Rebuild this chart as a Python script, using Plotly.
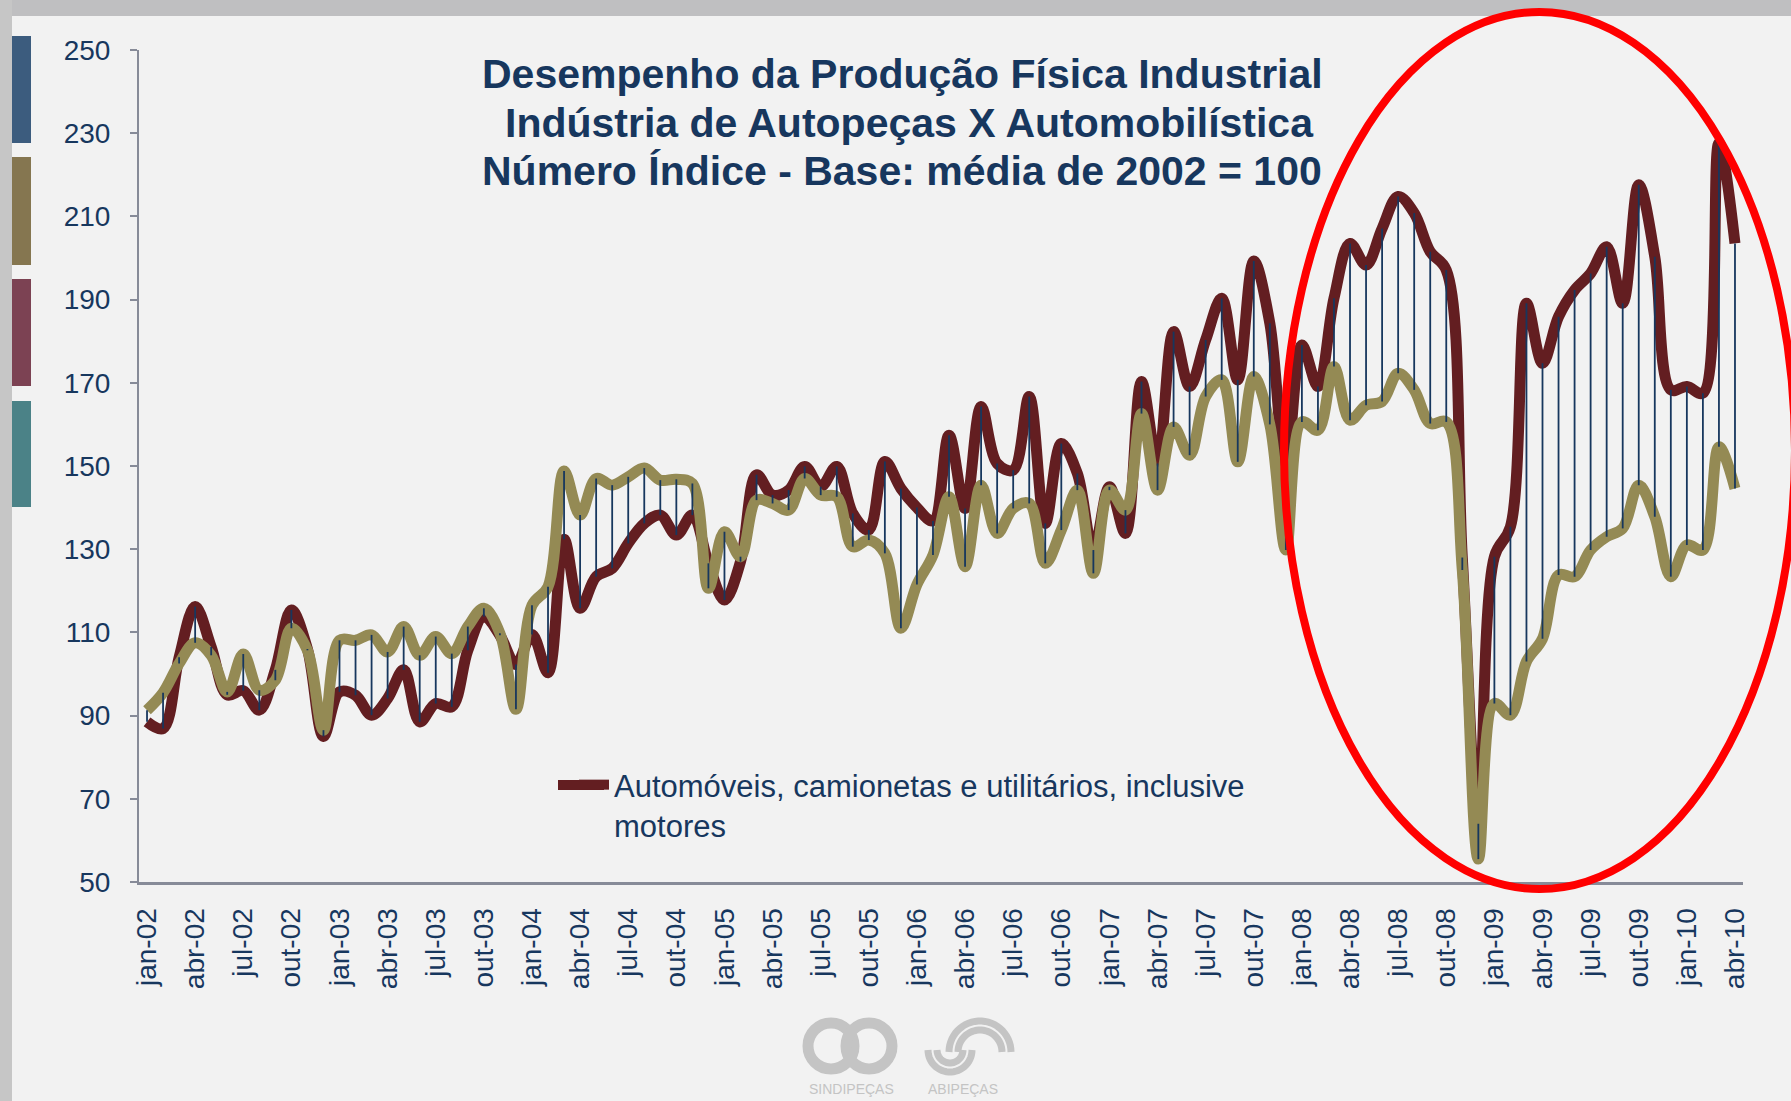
import numpy as np
import plotly.graph_objects as go

# ---------------- data ----------------
months = ["jan", "fev", "mar", "abr", "mai", "jun", "jul", "ago", "set", "out", "nov", "dez"]
years = ["02", "03", "04", "05", "06", "07", "08", "09", "10"]
categories = [f"{m}-{y}" for y in years for m in months][:100]   # jan-02 ... abr-10
tick_labels = categories[::3]

# Automóveis, camionetas e utilitários, inclusive motores
autos = [
    88.5, 86.9, 104.0, 116.2, 106.5, 95.0, 96.0, 91.3, 101.0, 115.4,
    106.0, 85.0, 95.7, 94.9, 90.1, 94.1, 101.0, 88.5, 92.9, 92.1,
    105.7, 113.8, 109.3, 102.3, 109.5, 100.3, 132.4, 115.8, 123.4, 125.4,
    131.4, 136.2, 138.2, 133.4, 138.2, 126.6, 117.8, 127.0, 147.9, 143.0,
    144.2, 149.9, 145.0, 149.9, 138.6, 134.6, 151.1, 144.6, 140.0, 136.8,
    157.4, 139.8, 164.3, 150.6, 149.0, 166.7, 136.2, 155.4, 148.2, 129.8,
    145.0, 133.8, 170.3, 150.6, 182.3, 169.1, 180.3, 190.3, 170.7, 199.3,
    184.3, 149.3, 179.1, 169.1, 190.3, 203.5, 198.3, 207.1, 214.8, 210.8,
    201.5, 197.1, 128.0, 64.0, 128.2, 135.4, 189.1, 174.7, 185.9, 192.3,
    196.3, 202.7, 189.1, 217.6, 200.3, 168.3, 169.1, 167.5, 227.6, 203.5,
]

# Autopeças
autopecas = [
    91.3, 95.5, 102.5, 107.5, 104.5, 95.7, 104.8, 96.1, 98.5, 111.0,
    105.7, 86.5, 108.1, 108.1, 109.4, 105.3, 111.4, 104.5, 109.0, 104.9,
    111.4, 115.8, 109.8, 91.5, 116.5, 121.0, 148.8, 138.2, 147.0, 145.4,
    147.4, 149.5, 146.6, 146.8, 145.8, 120.6, 134.2, 128.2, 141.8, 141.0,
    139.4, 147.0, 143.0, 142.6, 130.6, 132.2, 129.0, 111.0, 121.5, 128.6,
    142.6, 125.8, 145.4, 133.8, 139.8, 141.0, 126.6, 134.6, 144.2, 124.2,
    144.2, 139.4, 162.6, 144.2, 159.4, 152.6, 166.7, 170.7, 151.0, 171.5,
    160.0, 129.8, 160.6, 158.6, 173.9, 161.0, 164.6, 165.5, 172.3, 168.3,
    160.2, 160.6, 125.0, 55.5, 92.9, 90.1, 103.0, 108.5, 123.8, 123.4,
    129.8, 133.0, 135.0, 145.4, 137.8, 123.4, 131.0, 129.8, 154.6, 144.6,
]

legend_name = "Automóveis, camionetas e utilitários, inclusive<br>motores"
title_lines = [
    "Desempenho da Produção Física Industrial",
    "Indústria de Autopeças X Automobilística",
    "Número Índice - Base: média de 2002 = 100",
]

# ---------------- styling ----------------
FONT = "Liberation Sans, Arial, sans-serif"
NAVY = "#17375E"
RED = "#631E21"
OLIVE = "#948A54"
AXIS_GRAY = "#878B98"
BG = "#F2F2F2"

W_PX, H_PX = 1791, 1101
L, R, T, B = 139, 1743, 50, 882


def px2x(x):
    return (x - L) / (R - L)


def px2y(y):
    return (B - y) / (B - T)


fig = go.Figure()

fig.add_trace(go.Scatter(
    x=categories, y=autos, mode="lines", name=legend_name,
    line=dict(color=RED, width=11, shape="spline", smoothing=1.0),
    showlegend=True,
))
fig.add_trace(go.Scatter(
    x=categories, y=autopecas, mode="lines", name="Autopeças",
    line=dict(color=OLIVE, width=11, shape="spline", smoothing=1.0),
    showlegend=False,
))

# high-low (drop) lines between the two series
dx, dy = [], []
for c, a, p in zip(categories, autos, autopecas):
    dx += [c, c, None]
    dy += [a, p, None]
fig.add_trace(go.Scatter(
    x=dx, y=dy, mode="lines", line=dict(color=NAVY, width=1.8),
    showlegend=False, hoverinfo="skip",
))

shapes = []
# frame decorations
shapes.append(dict(type="rect", xref="paper", yref="paper",
                   x0=px2x(0), x1=px2x(W_PX), y0=px2y(16), y1=px2y(0),
                   fillcolor="#BFBFC1", line=dict(width=0), layer="below"))
shapes.append(dict(type="rect", xref="paper", yref="paper",
                   x0=px2x(0), x1=px2x(12), y0=px2y(H_PX), y1=px2y(0),
                   fillcolor="#C6C6C6", line=dict(width=0), layer="below"))
bars = [(36, 143, "#3C5C7E"), (157, 265, "#857650"), (279, 386, "#7C4253"), (401, 507, "#4B8287")]
for y0, y1, col in bars:
    shapes.append(dict(type="rect", xref="paper", yref="paper",
                       x0=px2x(12), x1=px2x(31), y0=px2y(y1), y1=px2y(y0),
                       fillcolor=col, line=dict(width=0), layer="below"))

# red ellipse highlight
shapes.append(dict(type="circle", xref="paper", yref="paper",
                   x0=px2x(1284), x1=px2x(1795), y0=px2y(889), y1=px2y(12),
                   line=dict(color="#FF0000", width=8), fillcolor="rgba(0,0,0,0)",
                   layer="above"))

# longer legend line sample (extends the legend symbol to the left)
LEG_Y = 785
shapes.append(dict(type="line", xref="paper", yref="paper",
                   x0=px2x(558), x1=px2x(604), y0=px2y(LEG_Y), y1=px2y(LEG_Y),
                   line=dict(color=RED, width=10), layer="above"))

# logos (decorative, gray)
LOGO = "#C4C4C4"
for cx in (831, 869):
    r = 23
    shapes.append(dict(type="circle", xref="paper", yref="paper",
                       x0=px2x(cx - r), x1=px2x(cx + r), y0=px2y(1046 + r), y1=px2y(1046 - r),
                       line=dict(color=LOGO, width=11), layer="below"))


def arc_path(cx, cy, r, a0, a1, n=30):
    pts = []
    for t in np.linspace(np.radians(a0), np.radians(a1), n):
        pts.append((px2x(cx + r * np.cos(t)), px2y(cy - r * np.sin(t))))
    return "M " + " L ".join(f"{x:.5f},{y:.5f}" for x, y in pts)


for r in (22, 31):
    shapes.append(dict(type="path", xref="paper", yref="paper",
                       path=arc_path(980, 1052, r, 0, 180), line=dict(color=LOGO, width=7), layer="below"))
for r in (13, 22):
    shapes.append(dict(type="path", xref="paper", yref="paper",
                       path=arc_path(950, 1050, r, 180, 360), line=dict(color=LOGO, width=7), layer="below"))

annotations = []
title_pos = [(902, 74), (909, 123), (902, 171)]
for txt, (tx, ty) in zip(title_lines, title_pos):
    annotations.append(dict(text=f"<b>{txt}</b>", xref="paper", yref="paper",
                            x=px2x(tx), y=px2y(ty), xanchor="center", yanchor="middle",
                            showarrow=False, font=dict(family=FONT, size=41, color=NAVY)))
for txt, tx in (("SINDIPEÇAS", 851), ("ABIPEÇAS", 963)):
    annotations.append(dict(text=txt, xref="paper", yref="paper", x=px2x(tx), y=px2y(1089),
                            xanchor="center", yanchor="middle", showarrow=False,
                            font=dict(family=FONT, size=14, color=LOGO)))

fig.update_layout(
    width=W_PX, height=H_PX,
    margin=dict(l=L, r=W_PX - R, t=T, b=H_PX - B, pad=0),
    paper_bgcolor=BG, plot_bgcolor="rgba(0,0,0,0)",
    font=dict(family=FONT, color=NAVY),
    shapes=shapes, annotations=annotations,
    legend=dict(x=px2x(574), y=px2y(LEG_Y - 27), xanchor="left", yanchor="top",
                bgcolor="rgba(0,0,0,0)", valign="top",
                font=dict(family=FONT, size=31, color=NAVY)),
    xaxis=dict(type="category", categoryorder="array", categoryarray=categories,
               range=[-0.5, len(categories) - 0.5],
               tickmode="array", tickvals=tick_labels, ticktext=tick_labels,
               tickangle=-90, tickfont=dict(family=FONT, size=28, color=NAVY),
               showline=True, linecolor=AXIS_GRAY, linewidth=3,
               showgrid=False, zeroline=False, ticks="", ticklabelstandoff=12),
    yaxis=dict(range=[50, 250], tickmode="linear", tick0=50, dtick=20,
               tickfont=dict(family=FONT, size=28, color=NAVY),
               showline=True, linecolor=AXIS_GRAY, linewidth=2,
               ticks="outside", ticklen=7, tickwidth=2, tickcolor=AXIS_GRAY,
               showgrid=False, zeroline=False, ticklabelstandoff=14),
    hovermode=False,
)

fig.write_html(
    "out.html",
    config={"displayModeBar": False},
    post_script="document.body.style.margin='0px';document.body.style.overflow='hidden';",
)
